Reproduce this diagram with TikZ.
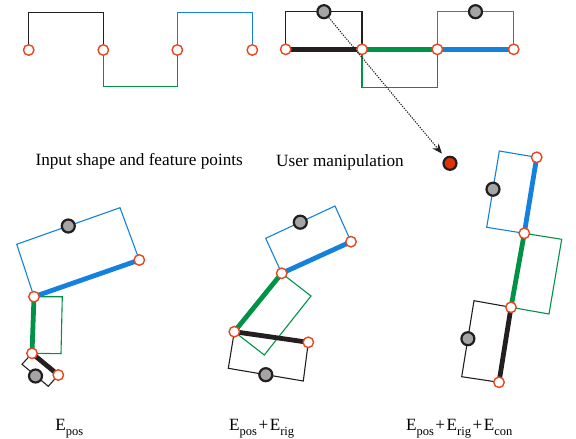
\documentclass[tikz,border=0pt]{standalone}
\usepackage{fontspec}
\setmainfont{Liberation Serif}
\usetikzlibrary{arrows.meta}
\definecolor{fpred}{RGB}{232,70,30}
\definecolor{segblack}{RGB}{35,31,32}
\definecolor{seggreen}{RGB}{0,146,69}
\definecolor{segblue}{RGB}{20,130,220}
\definecolor{handlegray}{RGB}{165,165,165}
\definecolor{dotred}{RGB}{225,50,5}
\newcommand{\Es}[1]{E\raisebox{-5pt}{\fontsize{12.5}{13}\selectfont #1}}
\newcommand{\pl}{\hspace{1.5pt}+\hspace{1.5pt}}
\tikzset{
  fp/.style={circle,draw=fpred,fill=white,line width=1.4pt,minimum size=10.5pt,inner sep=0pt},
  handle/.style={circle,draw=segblack,fill=handlegray,line width=2.2pt,minimum size=13pt,inner sep=0pt},
  target/.style={circle,draw=segblack,fill=dotred,line width=2.2pt,minimum size=13pt,inner sep=0pt},
  thinline/.style={line width=1.1pt},
  thickline/.style={line width=4.8pt},
  lbl/.style={anchor=base,inner sep=0pt,font=\fontsize{17.2}{20}\selectfont}
}
\begin{document}
\begin{tikzpicture}[x=1pt,y=-1pt]
\useasboundingbox (0,0) rectangle (576,439);
% ---------- top left: input shape ----------
\coordinate (a1) at (28.7,50);
\coordinate (a2) at (103.3,50);
\coordinate (a3) at (177.3,50);
\coordinate (a4) at (252.3,50);
\draw[thinline,segblack] (a1) -- (28.7,12.7) -- (103.3,12.7) -- (a2);
\draw[thinline,seggreen] (a2) -- (103.3,86.7) -- (177.3,86.7) -- (a3);
\draw[thinline,segblue] (a3) -- (177.3,12.7) -- (252.3,12.7) -- (a4);
\node[fp] (A1) at (a1) {};
\node[fp] (A2) at (a2) {};
\node[fp] (A3) at (a3) {};
\node[fp] (A4) at (a4) {};
\node[lbl] (t1) at (139.2,165.5) {Input shape and feature points};
% ---------- top right: user manipulation ----------
\coordinate (b1) at (285.7,49.3);
\coordinate (b2) at (362,49.3);
\coordinate (b3) at (437.3,49.3);
\coordinate (b4) at (513.7,49.3);
\draw[thinline,segblack] (b1) -- (285.7,11.7) -- (362,11.7) -- (b2);
\draw[thinline,seggreen] (b2) -- (362,87.3) -- (437.3,87.3) -- (b3);
\draw[thinline,segblue] (b3) -- (437.3,11.7) -- (513.7,11.7) -- (b4);
\draw[thickline,segblack] (b1) -- (b2);
\draw[thickline,seggreen] (b2) -- (b3);
\draw[thickline,segblue] (b3) -- (b4);
\node[handle] (H1) at (323.9,11.7) {};
\node[handle] (H2) at (475.5,11.7) {};
\node[fp] (B1) at (b1) {};
\node[fp] (B2) at (b2) {};
\node[fp] (B3) at (b3) {};
\node[fp] (B4) at (b4) {};
\node[target] (T) at (450,163.3) {};
\draw[segblack,line width=1.1pt,dash pattern=on 1.2pt off 1.3pt,-{Stealth[length=10pt,width=8pt]},shorten >=5pt] (H1) -- (T);
\node[lbl] (t2) at (340,166) {User manipulation};
% ---------- bottom left: E_pos ----------
\coordinate (p1) at (139.3,260);
\coordinate (p2) at (34,296.7);
\coordinate (p3) at (32,353.3);
\coordinate (p4) at (58.3,375);
\draw[thinline,segblue] (p2) -- (16.7,244.3) -- (120,207.7) -- (p1);
\draw[thinline,seggreen] (p2) -- (62.3,296.7) -- (61,353.7) -- (p3);
\draw[thinline,segblack] (p3) -- (22,364.3) -- (48.3,386.3) -- (p4);
\draw[thickline,segblue] (p2) -- (p1);
\draw[thickline,seggreen] (p2) -- (p3);
\draw[thickline,segblack] (p3) -- (p4);
\node[handle] (H3) at (68.3,226) {};
\node[handle] (H4) at (35.5,376) {};
\node[fp] (P1) at (p1) {};
\node[fp] (P2) at (p2) {};
\node[fp] (P3) at (p3) {};
\node[fp] (P4) at (p4) {};
\node[lbl] (t3) at (69.2,430) {\Es{pos}};
% ---------- bottom middle: E_pos + E_rig ----------
\coordinate (q1) at (351,241.7);
\coordinate (q2) at (281.7,273.3);
\coordinate (q3) at (234.3,331.7);
\coordinate (q4) at (308.3,342.3);
\draw[thinline,segblue] (q2) -- (265.7,238.3) -- (335,206) -- (q1);
\draw[thinline,seggreen] (q2) -- (311,296) -- (264.3,355) -- (q3);
\draw[thinline,segblack] (q3) -- (228.3,368.3) -- (303.3,381) -- (q4);
\draw[thickline,segblue] (q2) -- (q1);
\draw[thickline,seggreen] (q2) -- (q3);
\draw[thickline,segblack] (q3) -- (q4);
\node[handle] (H5) at (300.3,222.2) {};
\node[handle] (H6) at (265.8,374.7) {};
\node[fp] (Q1) at (q1) {};
\node[fp] (Q2) at (q2) {};
\node[fp] (Q3) at (q3) {};
\node[fp] (Q4) at (q4) {};
\node[lbl] (t4) at (261.7,430) {\Es{pos}\pl\Es{rig}};
% ---------- bottom right: E_pos + E_rig + E_con ----------
\coordinate (r1) at (536.7,157.3);
\coordinate (r2) at (524.3,233.3);
\coordinate (r3) at (511,307.3);
\coordinate (r4) at (499,382.3);
\draw[thinline,segblue] (r2) -- (486.7,227.3) -- (499.3,151) -- (r1);
\draw[thinline,seggreen] (r2) -- (561.7,239.3) -- (549,314) -- (r3);
\draw[thinline,segblack] (r3) -- (474,300.7) -- (461.7,376.7) -- (r4);
\draw[thickline,segblue] (r2) -- (r1);
\draw[thickline,seggreen] (r2) -- (r3);
\draw[thickline,segblack] (r3) -- (r4);
\node[handle] (H7) at (493,189.2) {};
\node[handle] (H8) at (467.9,338.7) {};
\node[fp] (R1) at (r1) {};
\node[fp] (R2) at (r2) {};
\node[fp] (R3) at (r3) {};
\node[fp] (R4) at (r4) {};
\node[lbl] (t5) at (459.2,430) {\Es{pos}\pl\Es{rig}\pl\Es{con}};
\end{tikzpicture}
\end{document}
